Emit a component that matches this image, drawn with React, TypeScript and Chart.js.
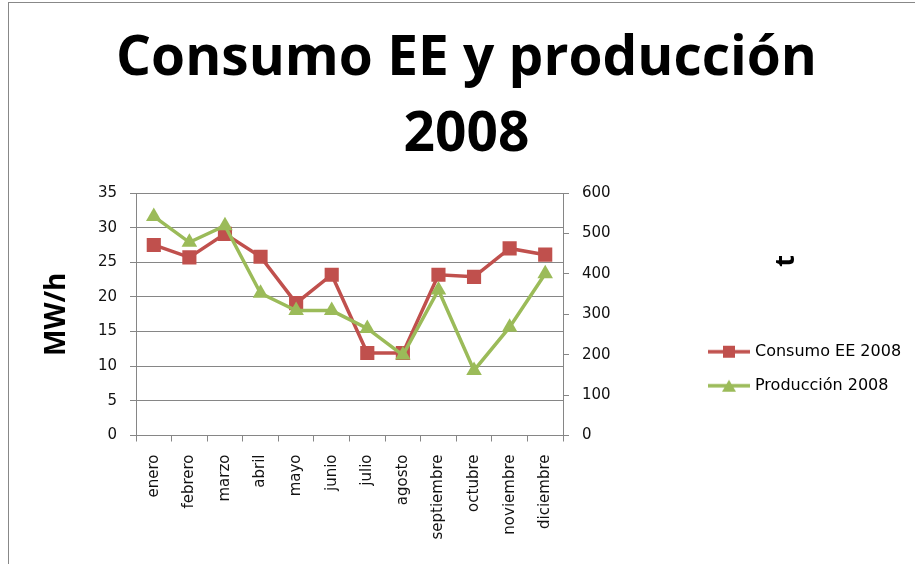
import React, { useEffect, useRef } from 'react';
import { Chart, registerables } from 'chart.js';

Chart.register(...registerables);

const titleLines = ['Consumo EE y producción', '2008'];
const months = ['enero', 'febrero', 'marzo', 'abril', 'mayo', 'junio', 'julio', 'agosto', 'septiembre', 'octubre', 'noviembre', 'diciembre'];
const seriesNames = ['Consumo EE 2008', 'Producción 2008'];
const consumoEE2008 = [27.5, 25.7, 29.1, 25.8, 19.1, 23.2, 11.9, 11.9, 23.2, 22.9, 27.0, 26.1];
const produccion2008 = [542, 478, 519, 352, 309, 309, 265, 199, 360, 161, 268, 400];
const leftAxisTitle = 'MW/h';
const rightAxisTitle = 't';
const leftRange = [0, 35, 5];
const rightRange = [0, 600, 100];

const RED = '#C0504D';
const GREEN = '#9BBB59';
const GRID = '#868686';
const TICK_FONT = { family: 'DejaVu Sans', size: 15 };

function makeIcon(color: string, shape: 'rect' | 'triangle') {
  const c = document.createElement('canvas');
  c.width = 42;
  c.height = 16;
  const g = c.getContext('2d')!;
  g.strokeStyle = color;
  g.lineWidth = 3.5;
  g.beginPath();
  g.moveTo(0, 8);
  g.lineTo(42, 8);
  g.stroke();
  g.fillStyle = color;
  g.beginPath();
  if (shape === 'rect') {
    g.rect(15, 2, 12, 12);
  } else {
    g.moveTo(21, 2);
    g.lineTo(28, 14);
    g.lineTo(14, 14);
    g.closePath();
  }
  g.fill();
  return c;
}

// Right-hand axis title (rotated like the left one) and legend placement
const rightSidePlugin = {
  id: 'rightSide',
  afterLayout(chart: any) {
    const lg = chart.legend;
    if (lg) {
      lg.left = chart.chartArea.right + 130;
      lg.right = chart.width;
      lg.width = lg.right - lg.left;
    }
  },
  afterDraw(chart: any) {
    const { ctx, chartArea } = chart;
    ctx.save();
    ctx.translate(chartArea.right + 223, chartArea.top + 68);
    ctx.rotate(-Math.PI / 2);
    ctx.font = 'bold 27px "Open Sans"';
    ctx.fillStyle = '#000';
    ctx.textAlign = 'center';
    ctx.textBaseline = 'middle';
    ctx.fillText(rightAxisTitle, 0, 0);
    ctx.restore();
  },
};

export default function App() {
  const ref = useRef<HTMLCanvasElement>(null);

  useEffect(() => {
    if (!ref.current) return;
    const icons = [makeIcon(RED, 'rect'), makeIcon(GREEN, 'triangle')];
    const chart = new Chart(ref.current, {
      type: 'line',
      data: {
        labels: months,
        datasets: [
          {
            label: seriesNames[0],
            data: consumoEE2008,
            yAxisID: 'y',
            borderColor: RED,
            backgroundColor: RED,
            borderWidth: 3.5,
            pointStyle: 'rect',
            pointRadius: 10,
            pointBorderWidth: 0,
            pointBackgroundColor: RED,
            tension: 0,
            order: 2,
          },
          {
            label: seriesNames[1],
            data: produccion2008,
            yAxisID: 'y1',
            borderColor: GREEN,
            backgroundColor: GREEN,
            borderWidth: 3.5,
            pointStyle: 'triangle',
            pointRadius: 9,
            pointBorderWidth: 0,
            pointBackgroundColor: GREEN,
            tension: 0,
            order: 1,
          },
        ],
      },
      options: {
        responsive: false,
        animation: false,
        events: [],
        layout: { padding: { left: 18, right: 0, top: 0, bottom: 0 } },
        plugins: {
          tooltip: { enabled: false },
          title: {
            display: true,
            text: titleLines,
            color: '#000',
            font: { family: 'Open Sans', weight: 'bold', size: 55, lineHeight: 76 / 55 },
            padding: { top: 21, bottom: 20 },
          },
          legend: {
            display: true,
            position: 'right',
            align: 'start',
            fullSize: false,
            maxWidth: 100,
            title: {
              display: true,
              text: ' ',
              font: { size: 12, lineHeight: 1.2 },
              padding: { top: 118.3, bottom: 0 },
            },
            labels: {
              usePointStyle: true,
              pointStyleWidth: 36,
              padding: 18,
              color: '#000',
              font: { family: 'DejaVu Sans', size: 16 },
              generateLabels: (ch: any) =>
                ch.data.datasets.map((ds: any, i: number) => ({
                  text: ds.label,
                  fillStyle: ds.backgroundColor,
                  strokeStyle: ds.borderColor,
                  lineWidth: 0,
                  pointStyle: icons[i],
                  hidden: false,
                  datasetIndex: i,
                  fontColor: '#000',
                })),
            },
          },
        },
        scales: {
          x: {
            type: 'category',
            offset: true,
            afterFit: (s: any) => {
              s.height = 128.5;
            },
            grid: {
              display: true,
              offset: true,
              drawOnChartArea: false,
              drawTicks: true,
              tickLength: 6,
              color: GRID,
            },
            border: { display: true, color: GRID, width: 1 },
            ticks: {
              autoSkip: false,
              maxRotation: 90,
              minRotation: 90,
              padding: 13,
              color: '#111',
              font: TICK_FONT,
            },
          },
          y: {
            type: 'linear',
            position: 'left',
            min: leftRange[0],
            max: leftRange[1],
            afterFit: (s: any) => {
              s.width = 118;
            },
            grid: { color: GRID, tickLength: 6, drawTicks: true },
            border: { display: true, color: GRID, width: 1 },
            ticks: { stepSize: leftRange[2], padding: 13, color: '#111', font: TICK_FONT },
            title: {
              display: true,
              text: leftAxisTitle,
              color: '#000',
              font: { family: 'Open Sans', weight: 'bold', size: 28, lineHeight: 1.2 },
              padding: { top: 22, bottom: 0 },
            },
          },
          y1: {
            type: 'linear',
            position: 'right',
            min: rightRange[0],
            max: rightRange[1],
            afterFit: (s: any) => {
              s.width = 915 - 100 - 563;
            },
            grid: { drawOnChartArea: false, color: GRID, tickLength: 6, drawTicks: true },
            border: { display: true, color: GRID, width: 1 },
            ticks: { stepSize: rightRange[2], padding: 13, color: '#111', font: TICK_FONT },
          },
        },
      },
      plugins: [rightSidePlugin],
    } as any);
    return () => chart.destroy();
  }, []);

  return (
    <div
      style={{
        position: 'fixed',
        left: 0,
        top: 0,
        width: 915,
        height: 564,
        overflow: 'hidden',
        background: '#fff',
      }}
    >
      <div
        style={{
          position: 'absolute',
          left: 8,
          top: 2,
          width: 1000,
          height: 700,
          border: '1px solid #888',
          boxSizing: 'border-box',
        }}
      />
      <canvas
        ref={ref}
        width={915}
        height={564}
        style={{ position: 'absolute', left: 0, top: 0, width: 915, height: 564 }}
      />
    </div>
  );
}
